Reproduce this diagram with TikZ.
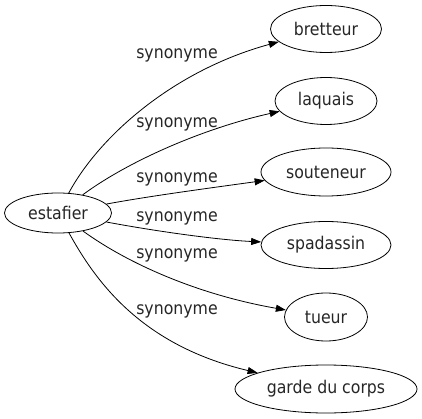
\documentclass[tikz,border=0pt]{standalone}
\usepackage{fontspec}
\setmainfont{DejaVu Sans Condensed}
\usetikzlibrary{shapes.geometric,arrows.meta}
\begin{document}
\begin{tikzpicture}[x=1pt,y=-1pt,
  every node/.style={font=\fontsize{17.5}{19}\selectfont, text=black!85},
  word/.style={draw=black, ellipse, inner sep=0pt, line width=0.8pt},
  lbl/.style={inner sep=0pt},
  edge/.style={draw=black, line width=0.8pt, -{Triangle[length=10pt,width=7pt]}}]
\useasboundingbox (0,0) rectangle (422,419);
\node[word, minimum width=107pt, minimum height=40pt] (est) at (58,213) {estafier};
\node[word, minimum width=111pt, minimum height=47pt] (bre) at (326,29) {bretteur};
\node[word, minimum width=102pt, minimum height=47pt] (laq) at (326,101) {laquais};
\node[word, minimum width=130pt, minimum height=48pt] (sou) at (326,172) {souteneur};
\node[word, minimum width=130pt, minimum height=47pt] (spa) at (326,245) {spadassin};
\node[word, minimum width=83pt, minimum height=48pt] (tue) at (326,317) {tueur};
\node[word, minimum width=182pt, minimum height=48pt] (gar) at (326,389) {garde du corps};
\draw[edge] (est) .. controls (100,135) and (175,70) .. (bre);
\draw[edge] (est) .. controls (130,160) and (205,128) .. (laq);
\draw[edge] (est) .. controls (150,196) and (210,188) .. (sou);
\draw[edge] (est) .. controls (160,232) and (220,240) .. (spa);
\draw[edge] (est) .. controls (130,265) and (200,295) .. (tue);
\draw[edge] (est) .. controls (95,280) and (140,345) .. (gar);
\node[lbl] (l1) at (177,55) {synonyme};
\node[lbl] (l2) at (177,124) {synonyme};
\node[lbl] (l3) at (177,179) {synonyme};
\node[lbl] (l4) at (177,218) {synonyme};
\node[lbl] (l5) at (177,255) {synonyme};
\node[lbl] (l6) at (177,311) {synonyme};
\end{tikzpicture}
\end{document}
